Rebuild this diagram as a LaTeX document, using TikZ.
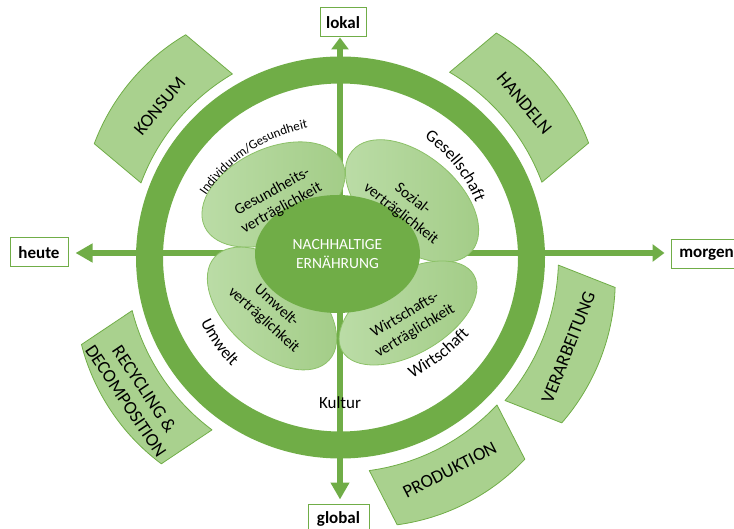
\documentclass[tikz,border=0pt]{standalone}
\usepackage{fontspec}
\setmainfont{Carlito}
\usetikzlibrary{arrows.meta,shapes.geometric,calc,decorations.text}

\definecolor{dgreen}{HTML}{70AD47}
\definecolor{lgreen}{HTML}{A9D18E}
\definecolor{petalA}{HTML}{A2CC86}
\definecolor{petalB}{HTML}{BCDDA8}
\definecolor{petalEdge}{HTML}{8CC168}

\tikzset{
  ring/.style={draw=dgreen, line width=27pt},
  axisline/.style={draw=dgreen, line width=6pt},
  tagbox/.style={draw=dgreen, line width=1pt, fill=white,
    font=\fontsize{17}{20}\selectfont\bfseries,
    minimum height=29pt, inner xsep=6pt, inner ysep=0pt},
  banner/.style={fill=lgreen, draw=dgreen, line width=0.8pt, line join=round},
  bannertext/.style={font=\fontsize{18.5}{22}\selectfont, align=center},
  petal/.style={ellipse, draw=petalEdge, line width=0.8pt,
    left color=petalB, right color=petalA, inner sep=0pt},
  petaltext/.style={font=\fontsize{15.5}{19}\selectfont, align=center},
  core/.style={ellipse, fill=dgreen, text=white,
    font=\fontsize{15.5}{19}\selectfont, align=center, inner sep=0pt},
  axislabel/.style={font=\fontsize{17}{20}\selectfont},
}

% bent banner around the ring:
% #1 mid angle, #2 inner radius, #3 text radius, #4 node name, #5 text, #6 text rotation
\newcommand\bentbanner[6]{%
  \pgfmathsetmacro\bbA{#1-19.5}\pgfmathsetmacro\bbB{#1+19.5}%
  \filldraw[banner] ($(C)+(\bbA:#2)$) arc[start angle=\bbA, end angle=\bbB, radius=#2]
    -- ++(#1:61) arc[start angle=\bbB, end angle=\bbA, radius=#2] -- cycle;
  \node[bannertext, rotate=#6] (#4) at ($(C)+(#1:#3)$) {#5};%
}

\begin{document}
\begin{tikzpicture}[x=1pt,y=1pt]
\useasboundingbox (0,0) rectangle (734,528);
\coordinate (C) at (340.5,270.5);
\coordinate (O) at (340,275);
\coordinate (Cind) at (339,242);
\coordinate (Cwir) at (308.5,343.5);

% stages of the food chain
\bentbanner{140}{213}{236}{konsum}{KONSUM}{50}
\bentbanner{40}{215}{240}{handeln}{HANDELN}{-50}
\bentbanner{-21.5}{218}{245}{verarbeitung}{VERARBEITUNG}{68.5}
\bentbanner{-62.8}{215}{239}{produktion}{PRODUKTION}{27.2}
\bentbanner{213.8}{215}{247}{recycling}{RECYCLING \&\\DECOMPOSITION}{-56.2}

% axis end labels
\node[tagbox, minimum width=46pt] (lokal) at (343,505.5) {lokal};
\node[tagbox, minimum width=61pt] (global) at (338.5,9.5) {global};
\node[tagbox, minimum width=58pt] (heute) at (39,275.5) {heute};
\node[tagbox, minimum width=71pt] (morgen) at (706.5,273.5) {morgen};

% axes
\draw[axisline, {Triangle[length=17pt,width=18pt]}-{Triangle[length=12pt,width=17pt]},
      shorten <=4pt] (O |- global.north) -- (O |- lokal.south);
\draw[axisline, {Triangle[length=17pt,width=18pt]}-{Triangle[length=12pt,width=17pt]},
      shorten <=7pt, shorten >=6pt] (heute.east |- O) -- (morgen.west |- O);

% ring
\draw[ring] (C) ellipse[x radius=191, y radius=187.5];

% petals
\node[petal, minimum width=152pt, minimum height=92pt, rotate=25] (pGes) at (273.5,333.5) {};
\node[petal, minimum width=156pt, minimum height=92pt, rotate=-40] (pSoz) at (412,327) {};
\node[petal, minimum width=154pt, minimum height=90pt, rotate=-42] (pUmw) at (272,219.5) {};
\node[petal, minimum width=152pt, minimum height=82pt, rotate=30] (pWir) at (408,215) {};

% centre
\node[core, minimum width=165pt, minimum height=118pt] (core) at (337.5,274) {NACHHALTIGE\\ERNÄHRUNG};

% petal texts
\node[petaltext, rotate=29] (tGes) at (277,328) {Gesundheits-\\verträglichkeit};
\node[petaltext, rotate=-38] (tSoz) at (406.7,321.3) {Sozial-\\verträglichkeit};
\node[petaltext, rotate=-42] (tUmw) at (270,215) {Umwelt-\\verträglichkeit};
\node[petaltext, rotate=31] (tWir) at (410,205) {Wirtschafts-\\verträglichkeit};

% curved dimension labels
\path[decorate, decoration={text along path, text align=center,
      text={|\fontsize{13}{15}\selectfont|Individuum/Gesundheit}}]
  ($(Cind)+(165:161)$) arc[start angle=165, end angle=82, radius=161];
\path[decorate, decoration={text along path, text align=center,
      text={|\fontsize{17}{20}\selectfont|Gesellschaft}}]
  ($(C)+(78.5:146)$) arc[start angle=78.5, end angle=-1.5, radius=146];
\path[decorate, decoration={text along path, text align=center,
      text={|\fontsize{17}{20}\selectfont|Umwelt}}]
  ($(C)+(175:154)$) arc[start angle=175, end angle=255, radius=154];
\path[decorate, decoration={text along path, text align=center,
      text={|\fontsize{17}{20}\selectfont|Wirtschaft}}]
  ($(Cwir)+(-70.4:220)$) arc[start angle=-70.4, end angle=-34.4, radius=220];
\node[axislabel] (kultur) at (340,125) {Kultur};
\end{tikzpicture}
\end{document}
